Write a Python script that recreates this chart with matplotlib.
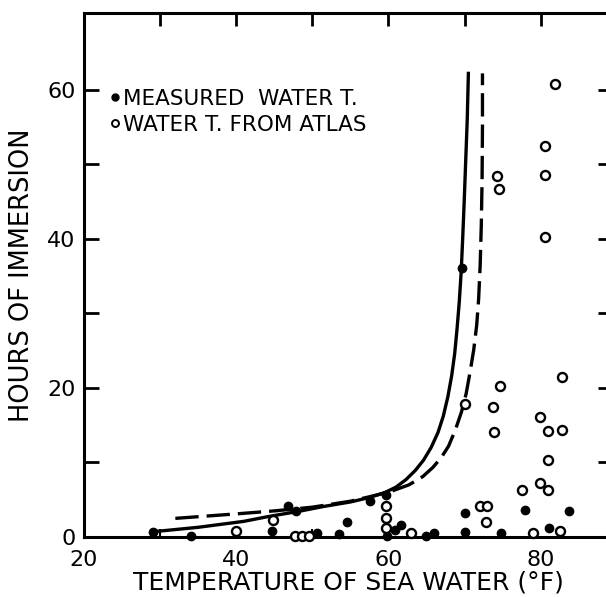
import matplotlib
matplotlib.use("Agg")
import matplotlib.pyplot as plt
from matplotlib.lines import Line2D

plt.rcParams['font.family'] = ['DejaVu Sans']

# measured water temperature (filled dots)
meas_t = [29.1, 34.0, 44.7, 46.8, 47.9, 50.6, 53.5, 54.6, 57.6, 59.7, 59.8,
          60.8, 61.7, 64.9, 66.0, 69.6, 70.0, 70.1, 74.8, 78.0, 81.1, 83.7]
meas_h = [0.7, 0.1, 0.8, 4.1, 3.5, 0.6, 0.4, 2.0, 4.8, 5.7, 0.2,
          0.9, 1.6, 0.1, 0.5, 36.1, 3.2, 0.7, 0.6, 3.6, 1.2, 3.5]

# water temperature from atlas (open circles)
atlas_t = [40.0, 44.8, 47.7, 48.6, 49.6, 59.7, 59.7, 59.7, 63.0, 70.0,
           72.0, 73.0, 72.8, 73.8, 73.9, 74.7, 74.3, 74.5, 77.5, 79.9,
           81.0, 80.9, 79.9, 80.9, 82.8, 82.8, 79.0, 82.6, 81.9, 80.6,
           80.6, 80.6]
atlas_h = [0.8, 2.3, 0.2, 0.2, 0.2, 4.1, 2.5, 1.2, 0.6, 17.9,
           4.1, 4.2, 2.0, 17.5, 14.1, 20.2, 48.4, 46.7, 6.3, 7.3,
           6.3, 10.3, 16.1, 14.2, 14.3, 21.4, 0.6, 0.8, 60.8, 52.4,
           48.5, 40.3]

# solid curve (measured water T.)
solid_t = [29.0, 32.0, 35.0, 38.0, 41.0, 44.5, 48.0, 51.5, 55.0, 57.5,
           59.6, 61.0, 62.3, 63.5, 64.6, 65.6, 66.5, 67.2, 67.8, 68.3,
           68.7, 69.0, 69.3, 69.55, 69.75, 69.95, 70.15, 70.35, 70.5]
solid_h = [0.7, 1.0, 1.3, 1.7, 2.1, 2.8, 3.4, 4.1, 4.7, 5.3,
           6.0, 6.7, 7.7, 8.9, 10.3, 12.0, 14.0, 16.2, 18.8, 21.6,
           24.6, 27.8, 31.5, 35.5, 40.0, 45.0, 50.5, 56.0, 62.2]

# dashed curve (water T. from atlas)
dash_t = [32.0, 36.0, 40.0, 45.0, 50.0, 55.0, 60.0, 62.7, 64.5, 65.8,
          66.9, 67.9, 68.8, 69.6, 70.2, 70.7, 71.2, 71.6, 71.85, 72.05,
          72.2, 72.3, 72.35, 72.35]
dash_h = [2.5, 2.8, 3.1, 3.5, 4.0, 4.8, 6.0, 7.0, 8.1, 9.3,
          10.6, 12.2, 14.4, 16.8, 19.2, 22.0, 25.1, 28.5, 32.0, 36.5,
          42.0, 48.0, 55.0, 62.2]

fig = plt.figure(figsize=(6.06, 5.97), dpi=100)
ax = fig.add_axes([84 / 606, 60 / 597, 529 / 606, 524 / 597])

ax.plot(solid_t, solid_h, color='black', lw=2.4, solid_joinstyle='round')
ax.plot(dash_t, dash_h, color='black', lw=2.4, dashes=(7, 2.4),
        dash_joinstyle='round')
ax.plot(meas_t, meas_h, 'o', color='black', ms=6, clip_on=False, zorder=4)
ax.plot(atlas_t, atlas_h, 'o', mfc='white', mec='black', ms=6.5, mew=1.7,
        clip_on=False, zorder=5)

ax.set_xlim(20, 89.5)
ax.set_ylim(0, 70.3)

for s in ax.spines.values():
    s.set_linewidth(2.2)

ax.set_xticks([20, 40, 60, 80])
ax.set_xticks([30, 50, 70], minor=True)
ax.set_yticks([0, 20, 40, 60])
ax.set_yticks([10, 30, 50], minor=True)
ax.tick_params(axis='both', which='both', direction='in', width=2,
               labelsize=16, colors='black')
ax.tick_params(axis='y', which='both', length=11, right=True, pad=6)
ax.tick_params(axis='x', which='major', length=0, top=False, pad=9)
ax.tick_params(axis='x', which='minor', length=6, width=1.5, top=False)

# short marks along the top edge
ax2 = ax.twiny()
ax2.set_xlim(ax.get_xlim())
ax2.set_xticks([30, 40, 50, 60, 70, 80])
ax2.tick_params(axis='x', direction='in', length=9, width=2, labeltop=False)
for s in ax2.spines.values():
    s.set_visible(False)

ax.set_xlabel('TEMPERATURE OF SEA WATER (°F)', fontsize=18, labelpad=1)
ax.set_ylabel('HOURS OF IMMERSION', fontsize=18.5)
ax.yaxis.set_label_coords(-0.092, 0.5)

handles = [
    Line2D([], [], ls='none', marker='o', color='black', ms=5),
    Line2D([], [], ls='none', marker='o', mfc='white', mec='black', ms=5, mew=1.4),
]
ax.legend(handles, ['MEASURED  WATER T.', 'WATER T. FROM ATLAS'],
          loc='upper left', bbox_to_anchor=(0.046, 0.855), frameon=False,
          fontsize=15.5, handlelength=0.6, handletextpad=0.1, borderpad=0,
          borderaxespad=0, labelspacing=0.28)

fig.savefig('out.png', dpi=100)
